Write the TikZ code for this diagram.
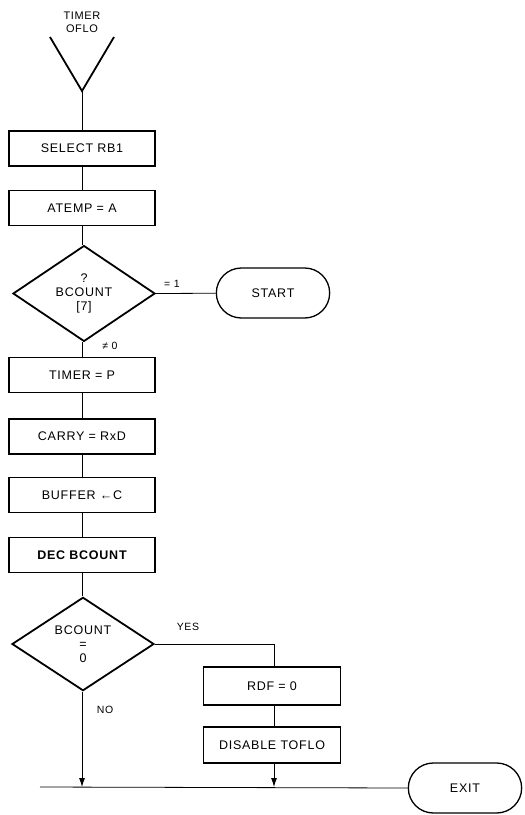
\documentclass[tikz,border=0pt]{standalone}
\usepackage{fontspec}
\setmainfont{Liberation Sans}[LetterSpace=6]
\usetikzlibrary{shapes.geometric,shapes.misc,arrows.meta}
\tikzset{
  procbox/.style={draw, line width=1.8pt, minimum width=146pt, minimum height=35pt, inner sep=0pt},
  decision/.style={draw, diamond, line width=1.8pt, minimum width=142pt, minimum height=93pt, inner sep=0pt, align=center},
  terminal/.style={draw, rounded rectangle, line width=1.3pt, minimum width=120pt, minimum height=50pt},
  flow/.style={line width=0.8pt},
  lbl/.style={font=\fontsize{10.5}{12}\selectfont}
}
\begin{document}
\begin{tikzpicture}[x=1pt, y=-1pt, font=\fontsize{12.5}{14}\selectfont]
\useasboundingbox (0,0) rectangle (525,815);
% entry
\node [align=center, font=\fontsize{11}{13}\selectfont] (tofl) at (82,22) {TIMER\\OFLO};
\draw [line width=1.8pt] (50,37) -- (82,91) -- (114,37);
\coordinate (vtip) at (82,91);
\node [procbox] (selrb) at (82,148.5) {SELECT RB1};
\node [procbox] (atemp) at (82,208) {ATEMP = A};
\node [decision] (bit7) at (84,293.5) {?\\BCOUNT\\{[7]}};
\node [terminal] (start) at (273,293) {START};
\node [procbox] (timer) at (82,375) {TIMER = P};
\node [procbox] (carry) at (82,436.5) {CARRY = RxD};
\node [procbox] (buff) at (82,495) {BUFFER ←C};
\node [procbox, font=\fontsize{12.5}{14}\selectfont\bfseries] (decb) at (82,555) {DEC BCOUNT};
\node [decision] (zero) at (83,644) {BCOUNT\\=\\0};
\node [procbox, minimum width=137pt, minimum height=38pt] (rdf) at (272,686) {RDF = 0};
\node [procbox, minimum width=137pt, minimum height=36pt] (dis) at (272,745) {DISABLE TOFLO};
\node [terminal] (exit) at (465,788) {EXIT};
% labels
\node [lbl] (eq1) at (172,284) {= 1};
\node [lbl] (ne0) at (110,346) {≠ 0};
\node [lbl] (yes) at (188,627) {YES};
\node [lbl] (no) at (105,710) {NO};
% connectors
\coordinate (jl) at (40,787);
\coordinate (jn) at (82,787);
\coordinate (jy) at (274,787);
\coordinate (yc) at (274,644);
\draw [flow] (vtip) -- (selrb);
\draw [flow] (selrb) -- (atemp);
\draw [flow] (atemp) -- (bit7.north -| atemp);
\draw [flow] (bit7.east) -- (start);
\draw [flow] (bit7.south -| timer) -- (timer);
\draw [flow] (timer) -- (carry);
\draw [flow] (carry) -- (buff);
\draw [flow] (buff) -- (decb);
\draw [flow] (decb) -- (zero.north -| decb);
\draw [flow] (zero.east) -- (yc) -- (rdf.north -| yc);
\draw [flow] (rdf.south -| yc) -- (dis.north -| yc);
\draw [flow, -{Latex[length=9pt,width=6pt]}] (zero.south -| jn) -- (jn);
\draw [flow, -{Latex[length=9pt,width=6pt]}] (dis.south -| jy) -- (jy);
\draw [flow] (jl) -- (exit.west);
\end{tikzpicture}
\end{document}
